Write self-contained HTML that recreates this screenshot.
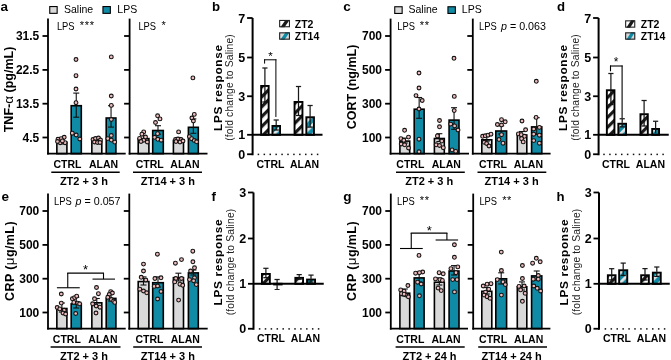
<!DOCTYPE html>
<html><head><meta charset="utf-8"><style>
html,body{margin:0;padding:0;background:#fff;}
svg{display:block;font-family:"Liberation Sans", sans-serif;filter:blur(0.3px);}
</style></head><body>
<svg width="671" height="360" viewBox="0 0 671 360">
<defs>
<pattern id="h2" patternUnits="userSpaceOnUse" width="7" height="7" patternTransform="rotate(45)">
<rect width="7" height="7" fill="#fff"/><rect width="3.2" height="7" fill="#1a1a1a"/></pattern>
<pattern id="h14" patternUnits="userSpaceOnUse" width="7" height="7" patternTransform="rotate(45)">
<rect width="7" height="7" fill="#108ba5"/><rect width="2.8" height="7" fill="#e4e4e4"/></pattern>
<linearGradient id="l2" x1="0" y1="0" x2="1" y2="1">
<stop offset="0" stop-color="#fff"/><stop offset="0.44" stop-color="#fff"/><stop offset="0.44" stop-color="#222"/><stop offset="0.72" stop-color="#222"/><stop offset="0.72" stop-color="#fff"/><stop offset="1" stop-color="#fff"/></linearGradient>
<linearGradient id="l14" x1="0" y1="0" x2="1" y2="1">
<stop offset="0" stop-color="#d9d9d9"/><stop offset="0.44" stop-color="#d9d9d9"/><stop offset="0.44" stop-color="#108ba5"/><stop offset="0.72" stop-color="#108ba5"/><stop offset="0.72" stop-color="#d9d9d9"/><stop offset="1" stop-color="#d9d9d9"/></linearGradient>
</defs>
<rect width="671" height="360" fill="#fff"/>
<text x="0.60" y="11.20" font-size="13.5" font-weight="bold" text-anchor="start" fill="#000" >a</text>
<rect x="49.75" y="6.55" width="7.40" height="6.80" fill="#d9d9d9" stroke="#000" stroke-width="1.1"/>
<text x="64.00" y="12.70" font-size="10.5" font-weight="normal" text-anchor="start" fill="#000" >Saline</text>
<rect x="102.95" y="6.55" width="7.40" height="6.80" fill="#108ba5" stroke="#000" stroke-width="1.1"/>
<text x="117.30" y="12.70" font-size="10.5" font-weight="normal" text-anchor="start" fill="#000" >LPS</text>
<text transform="translate(13.30,89.50) rotate(-90)" x="0" y="0" font-size="12.5" font-weight="bold" text-anchor="middle" fill="#000">TNF-<tspan font-weight="normal" font-size="13.5">α</tspan> (pg/mL)</text>
<rect x="56.85" y="142.20" width="10.05" height="11.45" fill="#d9d9d9" stroke="#000" stroke-width="1.6"/>
<rect x="71.20" y="105.70" width="10.10" height="47.95" fill="#108ba5" stroke="#000" stroke-width="1.6"/>
<rect x="91.85" y="141.70" width="9.95" height="11.95" fill="#d9d9d9" stroke="#000" stroke-width="1.6"/>
<rect x="106.20" y="118.00" width="9.70" height="35.65" fill="#108ba5" stroke="#000" stroke-width="1.6"/>
<line x1="61.90" y1="139.30" x2="61.90" y2="144.00" stroke="#111" stroke-width="1.1" />
<line x1="58.90" y1="139.30" x2="64.90" y2="139.30" stroke="#111" stroke-width="1.1" />
<line x1="58.90" y1="144.00" x2="64.90" y2="144.00" stroke="#111" stroke-width="1.1" />
<line x1="76.25" y1="93.10" x2="76.25" y2="117.20" stroke="#111" stroke-width="1.1" />
<line x1="73.25" y1="93.10" x2="79.25" y2="93.10" stroke="#111" stroke-width="1.1" />
<line x1="73.25" y1="117.20" x2="79.25" y2="117.20" stroke="#111" stroke-width="1.1" />
<line x1="96.80" y1="139.00" x2="96.80" y2="143.50" stroke="#111" stroke-width="1.1" />
<line x1="93.80" y1="139.00" x2="99.80" y2="139.00" stroke="#111" stroke-width="1.1" />
<line x1="93.80" y1="143.50" x2="99.80" y2="143.50" stroke="#111" stroke-width="1.1" />
<line x1="111.05" y1="105.70" x2="111.05" y2="127.10" stroke="#111" stroke-width="1.1" />
<line x1="108.05" y1="105.70" x2="114.05" y2="105.70" stroke="#111" stroke-width="1.1" />
<line x1="108.05" y1="127.10" x2="114.05" y2="127.10" stroke="#111" stroke-width="1.1" />
<circle cx="64.20" cy="137.30" r="1.9" fill="#eebcbc" stroke="#121212" stroke-width="1.1"/>
<circle cx="61.10" cy="138.70" r="1.9" fill="#eebcbc" stroke="#121212" stroke-width="1.1"/>
<circle cx="58.00" cy="139.30" r="1.9" fill="#eebcbc" stroke="#121212" stroke-width="1.1"/>
<circle cx="60.20" cy="142.70" r="1.9" fill="#eebcbc" stroke="#121212" stroke-width="1.1"/>
<circle cx="65.10" cy="142.70" r="1.9" fill="#eebcbc" stroke="#121212" stroke-width="1.1"/>
<circle cx="62.40" cy="140.90" r="1.9" fill="#eebcbc" stroke="#121212" stroke-width="1.1"/>
<circle cx="57.50" cy="141.50" r="1.9" fill="#eebcbc" stroke="#121212" stroke-width="1.1"/>
<circle cx="76.00" cy="59.50" r="1.9" fill="#eebcbc" stroke="#121212" stroke-width="1.1"/>
<circle cx="76.00" cy="75.70" r="1.9" fill="#eebcbc" stroke="#121212" stroke-width="1.1"/>
<circle cx="76.00" cy="89.00" r="1.9" fill="#eebcbc" stroke="#121212" stroke-width="1.1"/>
<circle cx="76.00" cy="102.70" r="1.9" fill="#eebcbc" stroke="#121212" stroke-width="1.1"/>
<circle cx="72.30" cy="133.20" r="1.9" fill="#eebcbc" stroke="#121212" stroke-width="1.1"/>
<circle cx="76.20" cy="135.00" r="1.9" fill="#eebcbc" stroke="#121212" stroke-width="1.1"/>
<circle cx="79.80" cy="139.00" r="1.9" fill="#eebcbc" stroke="#121212" stroke-width="1.1"/>
<circle cx="93.00" cy="139.50" r="1.9" fill="#eebcbc" stroke="#121212" stroke-width="1.1"/>
<circle cx="95.50" cy="138.50" r="1.9" fill="#eebcbc" stroke="#121212" stroke-width="1.1"/>
<circle cx="98.50" cy="138.00" r="1.9" fill="#eebcbc" stroke="#121212" stroke-width="1.1"/>
<circle cx="100.50" cy="140.00" r="1.9" fill="#eebcbc" stroke="#121212" stroke-width="1.1"/>
<circle cx="94.50" cy="142.00" r="1.9" fill="#eebcbc" stroke="#121212" stroke-width="1.1"/>
<circle cx="97.50" cy="142.50" r="1.9" fill="#eebcbc" stroke="#121212" stroke-width="1.1"/>
<circle cx="100.00" cy="142.50" r="1.9" fill="#eebcbc" stroke="#121212" stroke-width="1.1"/>
<circle cx="111.30" cy="56.90" r="1.9" fill="#eebcbc" stroke="#121212" stroke-width="1.1"/>
<circle cx="111.30" cy="96.00" r="1.9" fill="#eebcbc" stroke="#121212" stroke-width="1.1"/>
<circle cx="111.30" cy="105.40" r="1.9" fill="#eebcbc" stroke="#121212" stroke-width="1.1"/>
<circle cx="111.30" cy="119.50" r="1.9" fill="#eebcbc" stroke="#121212" stroke-width="1.1"/>
<circle cx="111.30" cy="135.50" r="1.9" fill="#eebcbc" stroke="#121212" stroke-width="1.1"/>
<circle cx="107.80" cy="138.60" r="1.9" fill="#eebcbc" stroke="#121212" stroke-width="1.1"/>
<circle cx="111.30" cy="140.10" r="1.9" fill="#eebcbc" stroke="#121212" stroke-width="1.1"/>
<circle cx="114.70" cy="142.10" r="1.9" fill="#eebcbc" stroke="#121212" stroke-width="1.1"/>
<line x1="48.00" y1="18.60" x2="48.00" y2="154.60" stroke="#000" stroke-width="1.8" />
<line x1="47.10" y1="153.70" x2="125.70" y2="153.70" stroke="#000" stroke-width="1.8" />
<line x1="42.50" y1="36.00" x2="48.00" y2="36.00" stroke="#000" stroke-width="1.8" />
<text x="39.30" y="40.30" font-size="12" font-weight="bold" text-anchor="end" fill="#000" >31.5</text>
<line x1="42.50" y1="69.90" x2="48.00" y2="69.90" stroke="#000" stroke-width="1.8" />
<text x="39.30" y="74.20" font-size="12" font-weight="bold" text-anchor="end" fill="#000" >22.5</text>
<line x1="42.50" y1="103.70" x2="48.00" y2="103.70" stroke="#000" stroke-width="1.8" />
<text x="39.30" y="108.00" font-size="12" font-weight="bold" text-anchor="end" fill="#000" >13.5</text>
<line x1="42.50" y1="137.50" x2="48.00" y2="137.50" stroke="#000" stroke-width="1.8" />
<text x="39.30" y="141.80" font-size="12" font-weight="bold" text-anchor="end" fill="#000" >4.5</text>
<rect x="138.20" y="138.60" width="10.70" height="15.05" fill="#d9d9d9" stroke="#000" stroke-width="1.6"/>
<rect x="152.70" y="130.50" width="10.60" height="23.15" fill="#108ba5" stroke="#000" stroke-width="1.6"/>
<rect x="173.40" y="140.40" width="10.10" height="13.25" fill="#d9d9d9" stroke="#000" stroke-width="1.6"/>
<rect x="188.40" y="127.30" width="9.90" height="26.35" fill="#108ba5" stroke="#000" stroke-width="1.6"/>
<line x1="143.50" y1="135.50" x2="143.50" y2="140.00" stroke="#111" stroke-width="1.1" />
<line x1="140.50" y1="135.50" x2="146.50" y2="135.50" stroke="#111" stroke-width="1.1" />
<line x1="140.50" y1="140.00" x2="146.50" y2="140.00" stroke="#111" stroke-width="1.1" />
<line x1="158.00" y1="125.70" x2="158.00" y2="134.20" stroke="#111" stroke-width="1.1" />
<line x1="155.00" y1="125.70" x2="161.00" y2="125.70" stroke="#111" stroke-width="1.1" />
<line x1="155.00" y1="134.20" x2="161.00" y2="134.20" stroke="#111" stroke-width="1.1" />
<line x1="178.50" y1="137.50" x2="178.50" y2="141.50" stroke="#111" stroke-width="1.1" />
<line x1="175.50" y1="137.50" x2="181.50" y2="137.50" stroke="#111" stroke-width="1.1" />
<line x1="175.50" y1="141.50" x2="181.50" y2="141.50" stroke="#111" stroke-width="1.1" />
<line x1="193.35" y1="118.90" x2="193.35" y2="133.30" stroke="#111" stroke-width="1.1" />
<line x1="190.35" y1="118.90" x2="196.35" y2="118.90" stroke="#111" stroke-width="1.1" />
<line x1="190.35" y1="133.30" x2="196.35" y2="133.30" stroke="#111" stroke-width="1.1" />
<circle cx="143.70" cy="131.90" r="1.9" fill="#eebcbc" stroke="#121212" stroke-width="1.1"/>
<circle cx="141.90" cy="134.20" r="1.9" fill="#eebcbc" stroke="#121212" stroke-width="1.1"/>
<circle cx="139.60" cy="138.40" r="1.9" fill="#eebcbc" stroke="#121212" stroke-width="1.1"/>
<circle cx="143.70" cy="140.20" r="1.9" fill="#eebcbc" stroke="#121212" stroke-width="1.1"/>
<circle cx="147.30" cy="142.00" r="1.9" fill="#eebcbc" stroke="#121212" stroke-width="1.1"/>
<circle cx="145.50" cy="137.00" r="1.9" fill="#eebcbc" stroke="#121212" stroke-width="1.1"/>
<circle cx="141.00" cy="141.50" r="1.9" fill="#eebcbc" stroke="#121212" stroke-width="1.1"/>
<circle cx="157.60" cy="115.80" r="1.9" fill="#eebcbc" stroke="#121212" stroke-width="1.1"/>
<circle cx="160.00" cy="118.90" r="1.9" fill="#eebcbc" stroke="#121212" stroke-width="1.1"/>
<circle cx="155.50" cy="122.50" r="1.9" fill="#eebcbc" stroke="#121212" stroke-width="1.1"/>
<circle cx="157.60" cy="133.70" r="1.9" fill="#eebcbc" stroke="#121212" stroke-width="1.1"/>
<circle cx="154.60" cy="137.30" r="1.9" fill="#eebcbc" stroke="#121212" stroke-width="1.1"/>
<circle cx="157.80" cy="139.30" r="1.9" fill="#eebcbc" stroke="#121212" stroke-width="1.1"/>
<circle cx="161.20" cy="140.20" r="1.9" fill="#eebcbc" stroke="#121212" stroke-width="1.1"/>
<circle cx="178.60" cy="131.90" r="1.9" fill="#eebcbc" stroke="#121212" stroke-width="1.1"/>
<circle cx="175.50" cy="139.50" r="1.9" fill="#eebcbc" stroke="#121212" stroke-width="1.1"/>
<circle cx="178.00" cy="139.00" r="1.9" fill="#eebcbc" stroke="#121212" stroke-width="1.1"/>
<circle cx="181.00" cy="139.50" r="1.9" fill="#eebcbc" stroke="#121212" stroke-width="1.1"/>
<circle cx="176.00" cy="141.50" r="1.9" fill="#eebcbc" stroke="#121212" stroke-width="1.1"/>
<circle cx="180.00" cy="142.00" r="1.9" fill="#eebcbc" stroke="#121212" stroke-width="1.1"/>
<circle cx="183.00" cy="141.00" r="1.9" fill="#eebcbc" stroke="#121212" stroke-width="1.1"/>
<circle cx="192.90" cy="77.90" r="1.9" fill="#eebcbc" stroke="#121212" stroke-width="1.1"/>
<circle cx="194.30" cy="114.40" r="1.9" fill="#eebcbc" stroke="#121212" stroke-width="1.1"/>
<circle cx="191.90" cy="118.00" r="1.9" fill="#eebcbc" stroke="#121212" stroke-width="1.1"/>
<circle cx="193.40" cy="121.00" r="1.9" fill="#eebcbc" stroke="#121212" stroke-width="1.1"/>
<circle cx="189.40" cy="136.60" r="1.9" fill="#eebcbc" stroke="#121212" stroke-width="1.1"/>
<circle cx="191.60" cy="138.70" r="1.9" fill="#eebcbc" stroke="#121212" stroke-width="1.1"/>
<circle cx="194.30" cy="140.50" r="1.9" fill="#eebcbc" stroke="#121212" stroke-width="1.1"/>
<circle cx="196.60" cy="141.80" r="1.9" fill="#eebcbc" stroke="#121212" stroke-width="1.1"/>
<line x1="129.60" y1="18.60" x2="129.60" y2="154.60" stroke="#000" stroke-width="1.8" />
<line x1="128.70" y1="153.70" x2="207.50" y2="153.70" stroke="#000" stroke-width="1.8" />
<line x1="124.10" y1="36.00" x2="129.60" y2="36.00" stroke="#000" stroke-width="1.8" />
<line x1="124.10" y1="69.90" x2="129.60" y2="69.90" stroke="#000" stroke-width="1.8" />
<line x1="124.10" y1="103.70" x2="129.60" y2="103.70" stroke="#000" stroke-width="1.8" />
<line x1="124.10" y1="137.50" x2="129.60" y2="137.50" stroke="#000" stroke-width="1.8" />
<text x="56.90" y="29.50" font-size="10.5" textLength="17.7" lengthAdjust="spacingAndGlyphs">LPS</text>
<text x="82.00" y="29.10" font-size="11" font-weight="normal" text-anchor="middle" fill="#000" >*</text>
<text x="87.00" y="29.10" font-size="11" font-weight="normal" text-anchor="middle" fill="#000" >*</text>
<text x="92.00" y="29.10" font-size="11" font-weight="normal" text-anchor="middle" fill="#000" >*</text>
<text x="138.40" y="29.70" font-size="10.5" textLength="17.7" lengthAdjust="spacingAndGlyphs">LPS</text>
<text x="163.75" y="29.30" font-size="11" font-weight="normal" text-anchor="middle" fill="#000" >*</text>
<text x="67.40" y="167.80" font-size="10.5" font-weight="bold" text-anchor="middle" fill="#000" >CTRL</text>
<text x="103.60" y="167.80" font-size="10.5" font-weight="bold" text-anchor="middle" fill="#000" >ALAN</text>
<line x1="51.30" y1="172.20" x2="119.70" y2="172.20" stroke="#000" stroke-width="1.6" />
<text x="83.90" y="184.70" font-size="11" font-weight="bold" text-anchor="middle" fill="#000" >ZT2 + 3 h</text>
<text x="149.70" y="167.80" font-size="10.5" font-weight="bold" text-anchor="middle" fill="#000" >CTRL</text>
<text x="184.90" y="167.80" font-size="10.5" font-weight="bold" text-anchor="middle" fill="#000" >ALAN</text>
<line x1="133.00" y1="172.20" x2="202.00" y2="172.20" stroke="#000" stroke-width="1.6" />
<text x="167.90" y="184.70" font-size="11" font-weight="bold" text-anchor="middle" fill="#000" >ZT14 + 3 h</text>
<text x="343.30" y="11.40" font-size="13.5" font-weight="bold" text-anchor="start" fill="#000" >c</text>
<rect x="394.75" y="6.75" width="7.40" height="6.70" fill="#d9d9d9" stroke="#000" stroke-width="1.1"/>
<text x="408.50" y="12.70" font-size="10.5" font-weight="normal" text-anchor="start" fill="#000" >Saline</text>
<rect x="447.95" y="6.75" width="7.40" height="6.70" fill="#108ba5" stroke="#000" stroke-width="1.1"/>
<text x="461.80" y="12.70" font-size="10.5" font-weight="normal" text-anchor="start" fill="#000" >LPS</text>
<text transform="translate(356.30,87.00) rotate(-90)" x="0" y="0" font-size="12.5" font-weight="bold" text-anchor="middle" fill="#000">CORT (ng/mL)</text>
<rect x="399.90" y="141.10" width="9.80" height="12.55" fill="#d9d9d9" stroke="#000" stroke-width="1.6"/>
<rect x="414.20" y="109.20" width="9.90" height="44.45" fill="#108ba5" stroke="#000" stroke-width="1.6"/>
<rect x="434.40" y="138.50" width="9.90" height="15.15" fill="#d9d9d9" stroke="#000" stroke-width="1.6"/>
<rect x="449.10" y="120.10" width="9.90" height="33.55" fill="#108ba5" stroke="#000" stroke-width="1.6"/>
<line x1="404.80" y1="138.10" x2="404.80" y2="143.00" stroke="#111" stroke-width="1.1" />
<line x1="401.80" y1="138.10" x2="407.80" y2="138.10" stroke="#111" stroke-width="1.1" />
<line x1="401.80" y1="143.00" x2="407.80" y2="143.00" stroke="#111" stroke-width="1.1" />
<line x1="419.15" y1="97.50" x2="419.15" y2="118.30" stroke="#111" stroke-width="1.1" />
<line x1="416.15" y1="97.50" x2="422.15" y2="97.50" stroke="#111" stroke-width="1.1" />
<line x1="416.15" y1="118.30" x2="422.15" y2="118.30" stroke="#111" stroke-width="1.1" />
<line x1="439.35" y1="133.70" x2="439.35" y2="141.50" stroke="#111" stroke-width="1.1" />
<line x1="436.35" y1="133.70" x2="442.35" y2="133.70" stroke="#111" stroke-width="1.1" />
<line x1="436.35" y1="141.50" x2="442.35" y2="141.50" stroke="#111" stroke-width="1.1" />
<line x1="454.05" y1="107.70" x2="454.05" y2="129.30" stroke="#111" stroke-width="1.1" />
<line x1="451.05" y1="107.70" x2="457.05" y2="107.70" stroke="#111" stroke-width="1.1" />
<line x1="451.05" y1="129.30" x2="457.05" y2="129.30" stroke="#111" stroke-width="1.1" />
<circle cx="404.60" cy="130.30" r="1.9" fill="#eebcbc" stroke="#121212" stroke-width="1.1"/>
<circle cx="400.90" cy="138.60" r="1.9" fill="#eebcbc" stroke="#121212" stroke-width="1.1"/>
<circle cx="408.50" cy="137.10" r="1.9" fill="#eebcbc" stroke="#121212" stroke-width="1.1"/>
<circle cx="403.80" cy="140.30" r="1.9" fill="#eebcbc" stroke="#121212" stroke-width="1.1"/>
<circle cx="401.20" cy="144.00" r="1.9" fill="#eebcbc" stroke="#121212" stroke-width="1.1"/>
<circle cx="404.60" cy="144.80" r="1.9" fill="#eebcbc" stroke="#121212" stroke-width="1.1"/>
<circle cx="408.50" cy="148.00" r="1.9" fill="#eebcbc" stroke="#121212" stroke-width="1.1"/>
<circle cx="419.00" cy="73.00" r="1.9" fill="#eebcbc" stroke="#121212" stroke-width="1.1"/>
<circle cx="419.00" cy="88.00" r="1.9" fill="#eebcbc" stroke="#121212" stroke-width="1.1"/>
<circle cx="416.00" cy="95.60" r="1.9" fill="#eebcbc" stroke="#121212" stroke-width="1.1"/>
<circle cx="422.20" cy="100.50" r="1.9" fill="#eebcbc" stroke="#121212" stroke-width="1.1"/>
<circle cx="419.00" cy="109.00" r="1.9" fill="#eebcbc" stroke="#121212" stroke-width="1.1"/>
<circle cx="419.00" cy="139.20" r="1.9" fill="#eebcbc" stroke="#121212" stroke-width="1.1"/>
<circle cx="419.00" cy="151.80" r="1.9" fill="#eebcbc" stroke="#121212" stroke-width="1.1"/>
<circle cx="439.50" cy="120.50" r="1.9" fill="#eebcbc" stroke="#121212" stroke-width="1.1"/>
<circle cx="439.50" cy="126.80" r="1.9" fill="#eebcbc" stroke="#121212" stroke-width="1.1"/>
<circle cx="437.40" cy="135.90" r="1.9" fill="#eebcbc" stroke="#121212" stroke-width="1.1"/>
<circle cx="441.80" cy="141.10" r="1.9" fill="#eebcbc" stroke="#121212" stroke-width="1.1"/>
<circle cx="436.20" cy="144.80" r="1.9" fill="#eebcbc" stroke="#121212" stroke-width="1.1"/>
<circle cx="439.50" cy="145.50" r="1.9" fill="#eebcbc" stroke="#121212" stroke-width="1.1"/>
<circle cx="443.30" cy="147.70" r="1.9" fill="#eebcbc" stroke="#121212" stroke-width="1.1"/>
<circle cx="454.00" cy="58.30" r="1.9" fill="#eebcbc" stroke="#121212" stroke-width="1.1"/>
<circle cx="454.30" cy="96.40" r="1.9" fill="#eebcbc" stroke="#121212" stroke-width="1.1"/>
<circle cx="454.20" cy="110.60" r="1.9" fill="#eebcbc" stroke="#121212" stroke-width="1.1"/>
<circle cx="450.70" cy="124.10" r="1.9" fill="#eebcbc" stroke="#121212" stroke-width="1.1"/>
<circle cx="454.60" cy="125.90" r="1.9" fill="#eebcbc" stroke="#121212" stroke-width="1.1"/>
<circle cx="458.00" cy="130.00" r="1.9" fill="#eebcbc" stroke="#121212" stroke-width="1.1"/>
<circle cx="452.10" cy="149.90" r="1.9" fill="#eebcbc" stroke="#121212" stroke-width="1.1"/>
<circle cx="455.70" cy="151.40" r="1.9" fill="#eebcbc" stroke="#121212" stroke-width="1.1"/>
<line x1="390.60" y1="18.60" x2="390.60" y2="154.60" stroke="#000" stroke-width="1.8" />
<line x1="389.70" y1="153.70" x2="469.00" y2="153.70" stroke="#000" stroke-width="1.8" />
<line x1="385.10" y1="36.00" x2="390.60" y2="36.00" stroke="#000" stroke-width="1.8" />
<text x="382.00" y="40.30" font-size="12" font-weight="bold" text-anchor="end" fill="#000" >700</text>
<line x1="385.10" y1="69.90" x2="390.60" y2="69.90" stroke="#000" stroke-width="1.8" />
<text x="382.00" y="74.20" font-size="12" font-weight="bold" text-anchor="end" fill="#000" >500</text>
<line x1="385.10" y1="103.70" x2="390.60" y2="103.70" stroke="#000" stroke-width="1.8" />
<text x="382.00" y="108.00" font-size="12" font-weight="bold" text-anchor="end" fill="#000" >300</text>
<line x1="385.10" y1="137.50" x2="390.60" y2="137.50" stroke="#000" stroke-width="1.8" />
<text x="382.00" y="141.80" font-size="12" font-weight="bold" text-anchor="end" fill="#000" >100</text>
<rect x="481.80" y="139.80" width="10.00" height="13.85" fill="#d9d9d9" stroke="#000" stroke-width="1.6"/>
<rect x="495.80" y="131.00" width="10.80" height="22.65" fill="#108ba5" stroke="#000" stroke-width="1.6"/>
<rect x="517.30" y="135.00" width="9.50" height="18.65" fill="#d9d9d9" stroke="#000" stroke-width="1.6"/>
<rect x="531.60" y="126.90" width="10.20" height="26.75" fill="#108ba5" stroke="#000" stroke-width="1.6"/>
<line x1="486.80" y1="136.50" x2="486.80" y2="141.00" stroke="#111" stroke-width="1.1" />
<line x1="483.80" y1="136.50" x2="489.80" y2="136.50" stroke="#111" stroke-width="1.1" />
<line x1="483.80" y1="141.00" x2="489.80" y2="141.00" stroke="#111" stroke-width="1.1" />
<line x1="501.20" y1="125.80" x2="501.20" y2="134.00" stroke="#111" stroke-width="1.1" />
<line x1="498.20" y1="125.80" x2="504.20" y2="125.80" stroke="#111" stroke-width="1.1" />
<line x1="498.20" y1="134.00" x2="504.20" y2="134.00" stroke="#111" stroke-width="1.1" />
<line x1="522.00" y1="131.50" x2="522.00" y2="137.00" stroke="#111" stroke-width="1.1" />
<line x1="519.00" y1="131.50" x2="525.00" y2="131.50" stroke="#111" stroke-width="1.1" />
<line x1="519.00" y1="137.00" x2="525.00" y2="137.00" stroke="#111" stroke-width="1.1" />
<line x1="536.70" y1="117.70" x2="536.70" y2="134.50" stroke="#111" stroke-width="1.1" />
<line x1="533.70" y1="117.70" x2="539.70" y2="117.70" stroke="#111" stroke-width="1.1" />
<line x1="533.70" y1="134.50" x2="539.70" y2="134.50" stroke="#111" stroke-width="1.1" />
<circle cx="482.60" cy="136.30" r="1.9" fill="#eebcbc" stroke="#121212" stroke-width="1.1"/>
<circle cx="485.30" cy="135.80" r="1.9" fill="#eebcbc" stroke="#121212" stroke-width="1.1"/>
<circle cx="488.00" cy="135.20" r="1.9" fill="#eebcbc" stroke="#121212" stroke-width="1.1"/>
<circle cx="491.00" cy="134.20" r="1.9" fill="#eebcbc" stroke="#121212" stroke-width="1.1"/>
<circle cx="484.20" cy="142.30" r="1.9" fill="#eebcbc" stroke="#121212" stroke-width="1.1"/>
<circle cx="486.60" cy="143.50" r="1.9" fill="#eebcbc" stroke="#121212" stroke-width="1.1"/>
<circle cx="489.00" cy="146.00" r="1.9" fill="#eebcbc" stroke="#121212" stroke-width="1.1"/>
<circle cx="501.50" cy="119.70" r="1.9" fill="#eebcbc" stroke="#121212" stroke-width="1.1"/>
<circle cx="505.20" cy="121.80" r="1.9" fill="#eebcbc" stroke="#121212" stroke-width="1.1"/>
<circle cx="497.40" cy="124.50" r="1.9" fill="#eebcbc" stroke="#121212" stroke-width="1.1"/>
<circle cx="501.50" cy="125.00" r="1.9" fill="#eebcbc" stroke="#121212" stroke-width="1.1"/>
<circle cx="501.50" cy="134.70" r="1.9" fill="#eebcbc" stroke="#121212" stroke-width="1.1"/>
<circle cx="499.00" cy="139.50" r="1.9" fill="#eebcbc" stroke="#121212" stroke-width="1.1"/>
<circle cx="503.00" cy="143.20" r="1.9" fill="#eebcbc" stroke="#121212" stroke-width="1.1"/>
<circle cx="522.00" cy="121.00" r="1.9" fill="#eebcbc" stroke="#121212" stroke-width="1.1"/>
<circle cx="525.60" cy="129.80" r="1.9" fill="#eebcbc" stroke="#121212" stroke-width="1.1"/>
<circle cx="518.40" cy="133.90" r="1.9" fill="#eebcbc" stroke="#121212" stroke-width="1.1"/>
<circle cx="521.30" cy="134.70" r="1.9" fill="#eebcbc" stroke="#121212" stroke-width="1.1"/>
<circle cx="524.50" cy="136.30" r="1.9" fill="#eebcbc" stroke="#121212" stroke-width="1.1"/>
<circle cx="521.60" cy="138.70" r="1.9" fill="#eebcbc" stroke="#121212" stroke-width="1.1"/>
<circle cx="523.20" cy="141.90" r="1.9" fill="#eebcbc" stroke="#121212" stroke-width="1.1"/>
<circle cx="536.30" cy="81.30" r="1.9" fill="#eebcbc" stroke="#121212" stroke-width="1.1"/>
<circle cx="536.10" cy="117.40" r="1.9" fill="#eebcbc" stroke="#121212" stroke-width="1.1"/>
<circle cx="533.70" cy="129.00" r="1.9" fill="#eebcbc" stroke="#121212" stroke-width="1.1"/>
<circle cx="539.40" cy="127.40" r="1.9" fill="#eebcbc" stroke="#121212" stroke-width="1.1"/>
<circle cx="533.70" cy="134.20" r="1.9" fill="#eebcbc" stroke="#121212" stroke-width="1.1"/>
<circle cx="539.40" cy="135.20" r="1.9" fill="#eebcbc" stroke="#121212" stroke-width="1.1"/>
<circle cx="533.70" cy="140.60" r="1.9" fill="#eebcbc" stroke="#121212" stroke-width="1.1"/>
<circle cx="539.40" cy="143.20" r="1.9" fill="#eebcbc" stroke="#121212" stroke-width="1.1"/>
<line x1="472.80" y1="18.60" x2="472.80" y2="154.60" stroke="#000" stroke-width="1.8" />
<line x1="471.90" y1="153.70" x2="550.60" y2="153.70" stroke="#000" stroke-width="1.8" />
<line x1="467.30" y1="36.00" x2="472.80" y2="36.00" stroke="#000" stroke-width="1.8" />
<line x1="467.30" y1="69.90" x2="472.80" y2="69.90" stroke="#000" stroke-width="1.8" />
<line x1="467.30" y1="103.70" x2="472.80" y2="103.70" stroke="#000" stroke-width="1.8" />
<line x1="467.30" y1="137.50" x2="472.80" y2="137.50" stroke="#000" stroke-width="1.8" />
<text x="397.30" y="29.60" font-size="10.5" textLength="17.7" lengthAdjust="spacingAndGlyphs">LPS</text>
<text x="421.80" y="29.20" font-size="11" font-weight="normal" text-anchor="middle" fill="#000" >*</text>
<text x="427.00" y="29.20" font-size="11" font-weight="normal" text-anchor="middle" fill="#000" >*</text>
<text x="479.10" y="30.20" font-size="10.5" textLength="17.7" lengthAdjust="spacingAndGlyphs">LPS</text>
<text x="501.00" y="30.20" font-size="10.7" font-weight="normal" text-anchor="start" fill="#000" ><tspan font-style="italic">p</tspan> = 0.063</text>
<text x="410.30" y="167.80" font-size="10.5" font-weight="bold" text-anchor="middle" fill="#000" >CTRL</text>
<text x="446.30" y="167.80" font-size="10.5" font-weight="bold" text-anchor="middle" fill="#000" >ALAN</text>
<line x1="396.00" y1="172.20" x2="464.80" y2="172.20" stroke="#000" stroke-width="1.6" />
<text x="429.20" y="184.70" font-size="11" font-weight="bold" text-anchor="middle" fill="#000" >ZT2 + 3 h</text>
<text x="493.00" y="167.80" font-size="10.5" font-weight="bold" text-anchor="middle" fill="#000" >CTRL</text>
<text x="528.40" y="167.80" font-size="10.5" font-weight="bold" text-anchor="middle" fill="#000" >ALAN</text>
<line x1="477.50" y1="172.20" x2="546.30" y2="172.20" stroke="#000" stroke-width="1.6" />
<text x="511.60" y="184.70" font-size="11" font-weight="bold" text-anchor="middle" fill="#000" >ZT14 + 3 h</text>
<text x="1.50" y="200.60" font-size="13.5" font-weight="bold" text-anchor="start" fill="#000" >e</text>
<text transform="translate(13.50,261.20) rotate(-90)" x="0" y="0" font-size="12.5" font-weight="bold" text-anchor="middle" fill="#000" textLength="79.5" lengthAdjust="spacing">CRP (<tspan font-weight="normal" font-size="13.5">μ</tspan>g/mL)</text>
<rect x="56.85" y="308.50" width="10.05" height="20.15" fill="#d9d9d9" stroke="#000" stroke-width="1.6"/>
<rect x="71.20" y="303.90" width="10.10" height="24.75" fill="#108ba5" stroke="#000" stroke-width="1.6"/>
<rect x="91.85" y="302.80" width="9.95" height="25.85" fill="#d9d9d9" stroke="#000" stroke-width="1.6"/>
<rect x="106.20" y="298.40" width="9.70" height="30.25" fill="#108ba5" stroke="#000" stroke-width="1.6"/>
<line x1="61.90" y1="303.00" x2="61.90" y2="312.00" stroke="#111" stroke-width="1.1" />
<line x1="58.90" y1="303.00" x2="64.90" y2="303.00" stroke="#111" stroke-width="1.1" />
<line x1="58.90" y1="312.00" x2="64.90" y2="312.00" stroke="#111" stroke-width="1.1" />
<line x1="76.25" y1="297.30" x2="76.25" y2="308.00" stroke="#111" stroke-width="1.1" />
<line x1="73.25" y1="297.30" x2="79.25" y2="297.30" stroke="#111" stroke-width="1.1" />
<line x1="73.25" y1="308.00" x2="79.25" y2="308.00" stroke="#111" stroke-width="1.1" />
<line x1="96.80" y1="298.50" x2="96.80" y2="306.00" stroke="#111" stroke-width="1.1" />
<line x1="93.80" y1="298.50" x2="99.80" y2="298.50" stroke="#111" stroke-width="1.1" />
<line x1="93.80" y1="306.00" x2="99.80" y2="306.00" stroke="#111" stroke-width="1.1" />
<line x1="111.05" y1="293.70" x2="111.05" y2="301.00" stroke="#111" stroke-width="1.1" />
<line x1="108.05" y1="293.70" x2="114.05" y2="293.70" stroke="#111" stroke-width="1.1" />
<line x1="108.05" y1="301.00" x2="114.05" y2="301.00" stroke="#111" stroke-width="1.1" />
<circle cx="61.30" cy="294.00" r="1.9" fill="#eebcbc" stroke="#121212" stroke-width="1.1"/>
<circle cx="61.30" cy="303.10" r="1.9" fill="#eebcbc" stroke="#121212" stroke-width="1.1"/>
<circle cx="57.20" cy="307.50" r="1.9" fill="#eebcbc" stroke="#121212" stroke-width="1.1"/>
<circle cx="59.80" cy="308.90" r="1.9" fill="#eebcbc" stroke="#121212" stroke-width="1.1"/>
<circle cx="64.20" cy="310.30" r="1.9" fill="#eebcbc" stroke="#121212" stroke-width="1.1"/>
<circle cx="63.00" cy="313.00" r="1.9" fill="#eebcbc" stroke="#121212" stroke-width="1.1"/>
<circle cx="65.60" cy="314.00" r="1.9" fill="#eebcbc" stroke="#121212" stroke-width="1.1"/>
<circle cx="72.40" cy="298.80" r="1.9" fill="#eebcbc" stroke="#121212" stroke-width="1.1"/>
<circle cx="74.60" cy="297.60" r="1.9" fill="#eebcbc" stroke="#121212" stroke-width="1.1"/>
<circle cx="76.70" cy="296.20" r="1.9" fill="#eebcbc" stroke="#121212" stroke-width="1.1"/>
<circle cx="73.80" cy="302.40" r="1.9" fill="#eebcbc" stroke="#121212" stroke-width="1.1"/>
<circle cx="77.70" cy="303.10" r="1.9" fill="#eebcbc" stroke="#121212" stroke-width="1.1"/>
<circle cx="79.60" cy="303.80" r="1.9" fill="#eebcbc" stroke="#121212" stroke-width="1.1"/>
<circle cx="75.70" cy="313.50" r="1.9" fill="#eebcbc" stroke="#121212" stroke-width="1.1"/>
<circle cx="96.50" cy="287.50" r="1.9" fill="#eebcbc" stroke="#121212" stroke-width="1.1"/>
<circle cx="98.40" cy="293.70" r="1.9" fill="#eebcbc" stroke="#121212" stroke-width="1.1"/>
<circle cx="94.50" cy="298.80" r="1.9" fill="#eebcbc" stroke="#121212" stroke-width="1.1"/>
<circle cx="92.60" cy="303.80" r="1.9" fill="#eebcbc" stroke="#121212" stroke-width="1.1"/>
<circle cx="96.20" cy="306.00" r="1.9" fill="#eebcbc" stroke="#121212" stroke-width="1.1"/>
<circle cx="99.90" cy="307.20" r="1.9" fill="#eebcbc" stroke="#121212" stroke-width="1.1"/>
<circle cx="96.00" cy="313.00" r="1.9" fill="#eebcbc" stroke="#121212" stroke-width="1.1"/>
<circle cx="110.70" cy="291.60" r="1.9" fill="#eebcbc" stroke="#121212" stroke-width="1.1"/>
<circle cx="112.40" cy="293.00" r="1.9" fill="#eebcbc" stroke="#121212" stroke-width="1.1"/>
<circle cx="109.20" cy="294.50" r="1.9" fill="#eebcbc" stroke="#121212" stroke-width="1.1"/>
<circle cx="107.80" cy="297.30" r="1.9" fill="#eebcbc" stroke="#121212" stroke-width="1.1"/>
<circle cx="111.40" cy="299.50" r="1.9" fill="#eebcbc" stroke="#121212" stroke-width="1.1"/>
<circle cx="113.60" cy="301.00" r="1.9" fill="#eebcbc" stroke="#121212" stroke-width="1.1"/>
<circle cx="114.70" cy="302.40" r="1.9" fill="#eebcbc" stroke="#121212" stroke-width="1.1"/>
<line x1="48.00" y1="193.60" x2="48.00" y2="329.60" stroke="#000" stroke-width="1.8" />
<line x1="47.10" y1="328.70" x2="125.70" y2="328.70" stroke="#000" stroke-width="1.8" />
<line x1="42.50" y1="211.00" x2="48.00" y2="211.00" stroke="#000" stroke-width="1.8" />
<text x="39.30" y="215.30" font-size="12" font-weight="bold" text-anchor="end" fill="#000" >700</text>
<line x1="42.50" y1="244.90" x2="48.00" y2="244.90" stroke="#000" stroke-width="1.8" />
<text x="39.30" y="249.20" font-size="12" font-weight="bold" text-anchor="end" fill="#000" >500</text>
<line x1="42.50" y1="278.70" x2="48.00" y2="278.70" stroke="#000" stroke-width="1.8" />
<text x="39.30" y="283.00" font-size="12" font-weight="bold" text-anchor="end" fill="#000" >300</text>
<line x1="42.50" y1="312.50" x2="48.00" y2="312.50" stroke="#000" stroke-width="1.8" />
<text x="39.30" y="316.80" font-size="12" font-weight="bold" text-anchor="end" fill="#000" >100</text>
<rect x="138.20" y="281.55" width="10.70" height="47.10" fill="#d9d9d9" stroke="#000" stroke-width="1.6"/>
<rect x="152.70" y="282.70" width="10.60" height="45.95" fill="#108ba5" stroke="#000" stroke-width="1.6"/>
<rect x="173.40" y="277.70" width="10.10" height="50.95" fill="#d9d9d9" stroke="#000" stroke-width="1.6"/>
<rect x="188.40" y="272.90" width="9.90" height="55.75" fill="#108ba5" stroke="#000" stroke-width="1.6"/>
<line x1="143.50" y1="276.90" x2="143.50" y2="285.00" stroke="#111" stroke-width="1.1" />
<line x1="140.50" y1="276.90" x2="146.50" y2="276.90" stroke="#111" stroke-width="1.1" />
<line x1="140.50" y1="285.00" x2="146.50" y2="285.00" stroke="#111" stroke-width="1.1" />
<line x1="158.00" y1="276.90" x2="158.00" y2="287.00" stroke="#111" stroke-width="1.1" />
<line x1="155.00" y1="276.90" x2="161.00" y2="276.90" stroke="#111" stroke-width="1.1" />
<line x1="155.00" y1="287.00" x2="161.00" y2="287.00" stroke="#111" stroke-width="1.1" />
<line x1="178.40" y1="273.20" x2="178.40" y2="281.00" stroke="#111" stroke-width="1.1" />
<line x1="175.40" y1="273.20" x2="181.40" y2="273.20" stroke="#111" stroke-width="1.1" />
<line x1="175.40" y1="281.00" x2="181.40" y2="281.00" stroke="#111" stroke-width="1.1" />
<line x1="193.40" y1="270.00" x2="193.40" y2="275.00" stroke="#111" stroke-width="1.1" />
<line x1="190.40" y1="270.00" x2="196.40" y2="270.00" stroke="#111" stroke-width="1.1" />
<line x1="190.40" y1="275.00" x2="196.40" y2="275.00" stroke="#111" stroke-width="1.1" />
<circle cx="143.50" cy="264.10" r="1.9" fill="#eebcbc" stroke="#121212" stroke-width="1.1"/>
<circle cx="143.50" cy="271.00" r="1.9" fill="#eebcbc" stroke="#121212" stroke-width="1.1"/>
<circle cx="141.20" cy="277.30" r="1.9" fill="#eebcbc" stroke="#121212" stroke-width="1.1"/>
<circle cx="145.80" cy="280.00" r="1.9" fill="#eebcbc" stroke="#121212" stroke-width="1.1"/>
<circle cx="139.80" cy="289.20" r="1.9" fill="#eebcbc" stroke="#121212" stroke-width="1.1"/>
<circle cx="143.50" cy="291.00" r="1.9" fill="#eebcbc" stroke="#121212" stroke-width="1.1"/>
<circle cx="146.70" cy="292.80" r="1.9" fill="#eebcbc" stroke="#121212" stroke-width="1.1"/>
<circle cx="157.40" cy="254.20" r="1.9" fill="#eebcbc" stroke="#121212" stroke-width="1.1"/>
<circle cx="154.90" cy="278.50" r="1.9" fill="#eebcbc" stroke="#121212" stroke-width="1.1"/>
<circle cx="161.00" cy="277.80" r="1.9" fill="#eebcbc" stroke="#121212" stroke-width="1.1"/>
<circle cx="154.20" cy="286.40" r="1.9" fill="#eebcbc" stroke="#121212" stroke-width="1.1"/>
<circle cx="157.60" cy="286.00" r="1.9" fill="#eebcbc" stroke="#121212" stroke-width="1.1"/>
<circle cx="161.00" cy="291.50" r="1.9" fill="#eebcbc" stroke="#121212" stroke-width="1.1"/>
<circle cx="157.60" cy="299.00" r="1.9" fill="#eebcbc" stroke="#121212" stroke-width="1.1"/>
<circle cx="175.40" cy="263.20" r="1.9" fill="#eebcbc" stroke="#121212" stroke-width="1.1"/>
<circle cx="181.50" cy="259.60" r="1.9" fill="#eebcbc" stroke="#121212" stroke-width="1.1"/>
<circle cx="175.80" cy="278.50" r="1.9" fill="#eebcbc" stroke="#121212" stroke-width="1.1"/>
<circle cx="181.50" cy="278.50" r="1.9" fill="#eebcbc" stroke="#121212" stroke-width="1.1"/>
<circle cx="174.70" cy="281.90" r="1.9" fill="#eebcbc" stroke="#121212" stroke-width="1.1"/>
<circle cx="179.90" cy="284.20" r="1.9" fill="#eebcbc" stroke="#121212" stroke-width="1.1"/>
<circle cx="182.70" cy="285.30" r="1.9" fill="#eebcbc" stroke="#121212" stroke-width="1.1"/>
<circle cx="178.60" cy="300.10" r="1.9" fill="#eebcbc" stroke="#121212" stroke-width="1.1"/>
<circle cx="192.80" cy="251.20" r="1.9" fill="#eebcbc" stroke="#121212" stroke-width="1.1"/>
<circle cx="192.90" cy="261.80" r="1.9" fill="#eebcbc" stroke="#121212" stroke-width="1.1"/>
<circle cx="194.50" cy="267.80" r="1.9" fill="#eebcbc" stroke="#121212" stroke-width="1.1"/>
<circle cx="190.60" cy="271.00" r="1.9" fill="#eebcbc" stroke="#121212" stroke-width="1.1"/>
<circle cx="194.50" cy="277.80" r="1.9" fill="#eebcbc" stroke="#121212" stroke-width="1.1"/>
<circle cx="189.50" cy="279.60" r="1.9" fill="#eebcbc" stroke="#121212" stroke-width="1.1"/>
<circle cx="193.60" cy="280.75" r="1.9" fill="#eebcbc" stroke="#121212" stroke-width="1.1"/>
<circle cx="196.30" cy="284.60" r="1.9" fill="#eebcbc" stroke="#121212" stroke-width="1.1"/>
<line x1="129.30" y1="193.60" x2="129.30" y2="329.60" stroke="#000" stroke-width="1.8" />
<line x1="128.40" y1="328.70" x2="207.70" y2="328.70" stroke="#000" stroke-width="1.8" />
<line x1="123.80" y1="211.00" x2="129.30" y2="211.00" stroke="#000" stroke-width="1.8" />
<line x1="123.80" y1="244.90" x2="129.30" y2="244.90" stroke="#000" stroke-width="1.8" />
<line x1="123.80" y1="278.70" x2="129.30" y2="278.70" stroke="#000" stroke-width="1.8" />
<line x1="123.80" y1="312.50" x2="129.30" y2="312.50" stroke="#000" stroke-width="1.8" />
<text x="54.00" y="204.90" font-size="10.5" textLength="17.7" lengthAdjust="spacingAndGlyphs">LPS</text>
<text x="75.60" y="204.90" font-size="10.7" font-weight="normal" text-anchor="start" fill="#000" ><tspan font-style="italic">p</tspan> = 0.057</text>
<line x1="56.90" y1="287.75" x2="79.75" y2="287.75" stroke="#000" stroke-width="1.1" />
<line x1="67.75" y1="287.75" x2="67.75" y2="273.10" stroke="#000" stroke-width="1.1" />
<line x1="67.20" y1="273.10" x2="104.00" y2="273.10" stroke="#000" stroke-width="1.1" />
<line x1="103.50" y1="273.10" x2="103.50" y2="279.10" stroke="#000" stroke-width="1.1" />
<line x1="92.50" y1="279.10" x2="115.00" y2="279.10" stroke="#000" stroke-width="1.1" />
<text x="85.60" y="273.50" font-size="13" font-weight="normal" text-anchor="middle" fill="#000" >*</text>
<text x="66.85" y="342.60" font-size="10.5" font-weight="bold" text-anchor="middle" fill="#000" >CTRL</text>
<text x="102.90" y="342.60" font-size="10.5" font-weight="bold" text-anchor="middle" fill="#000" >ALAN</text>
<line x1="50.60" y1="347.00" x2="120.50" y2="347.00" stroke="#000" stroke-width="1.6" />
<text x="84.00" y="359.50" font-size="11" font-weight="bold" text-anchor="middle" fill="#000" >ZT2 + 3 h</text>
<text x="149.50" y="342.60" font-size="10.5" font-weight="bold" text-anchor="middle" fill="#000" >CTRL</text>
<text x="185.30" y="342.60" font-size="10.5" font-weight="bold" text-anchor="middle" fill="#000" >ALAN</text>
<line x1="133.20" y1="347.00" x2="202.00" y2="347.00" stroke="#000" stroke-width="1.6" />
<text x="167.85" y="359.50" font-size="11" font-weight="bold" text-anchor="middle" fill="#000" >ZT14 + 3 h</text>
<text x="343.30" y="201.00" font-size="13.5" font-weight="bold" text-anchor="start" fill="#000" >g</text>
<text transform="translate(356.30,261.20) rotate(-90)" x="0" y="0" font-size="12.5" font-weight="bold" text-anchor="middle" fill="#000" textLength="79.5" lengthAdjust="spacing">CRP (<tspan font-weight="normal" font-size="13.5">μ</tspan>g/mL)</text>
<rect x="399.90" y="293.20" width="9.80" height="35.45" fill="#d9d9d9" stroke="#000" stroke-width="1.6"/>
<rect x="414.20" y="277.90" width="9.90" height="50.75" fill="#108ba5" stroke="#000" stroke-width="1.6"/>
<rect x="434.40" y="282.20" width="9.90" height="46.45" fill="#d9d9d9" stroke="#000" stroke-width="1.6"/>
<rect x="449.10" y="271.00" width="9.90" height="57.65" fill="#108ba5" stroke="#000" stroke-width="1.6"/>
<line x1="404.80" y1="289.00" x2="404.80" y2="296.00" stroke="#111" stroke-width="1.1" />
<line x1="401.80" y1="289.00" x2="407.80" y2="289.00" stroke="#111" stroke-width="1.1" />
<line x1="401.80" y1="296.00" x2="407.80" y2="296.00" stroke="#111" stroke-width="1.1" />
<line x1="419.15" y1="272.00" x2="419.15" y2="282.00" stroke="#111" stroke-width="1.1" />
<line x1="416.15" y1="272.00" x2="422.15" y2="272.00" stroke="#111" stroke-width="1.1" />
<line x1="416.15" y1="282.00" x2="422.15" y2="282.00" stroke="#111" stroke-width="1.1" />
<line x1="439.35" y1="277.90" x2="439.35" y2="285.00" stroke="#111" stroke-width="1.1" />
<line x1="436.35" y1="277.90" x2="442.35" y2="277.90" stroke="#111" stroke-width="1.1" />
<line x1="436.35" y1="285.00" x2="442.35" y2="285.00" stroke="#111" stroke-width="1.1" />
<line x1="454.05" y1="265.60" x2="454.05" y2="275.00" stroke="#111" stroke-width="1.1" />
<line x1="451.05" y1="265.60" x2="457.05" y2="265.60" stroke="#111" stroke-width="1.1" />
<line x1="451.05" y1="275.00" x2="457.05" y2="275.00" stroke="#111" stroke-width="1.1" />
<circle cx="407.90" cy="285.50" r="1.9" fill="#eebcbc" stroke="#121212" stroke-width="1.1"/>
<circle cx="400.70" cy="289.90" r="1.9" fill="#eebcbc" stroke="#121212" stroke-width="1.1"/>
<circle cx="404.10" cy="291.20" r="1.9" fill="#eebcbc" stroke="#121212" stroke-width="1.1"/>
<circle cx="401.50" cy="293.70" r="1.9" fill="#eebcbc" stroke="#121212" stroke-width="1.1"/>
<circle cx="405.90" cy="295.00" r="1.9" fill="#eebcbc" stroke="#121212" stroke-width="1.1"/>
<circle cx="408.40" cy="296.80" r="1.9" fill="#eebcbc" stroke="#121212" stroke-width="1.1"/>
<circle cx="404.10" cy="294.20" r="1.9" fill="#eebcbc" stroke="#121212" stroke-width="1.1"/>
<circle cx="419.00" cy="255.40" r="1.9" fill="#eebcbc" stroke="#121212" stroke-width="1.1"/>
<circle cx="415.60" cy="273.20" r="1.9" fill="#eebcbc" stroke="#121212" stroke-width="1.1"/>
<circle cx="422.70" cy="272.00" r="1.9" fill="#eebcbc" stroke="#121212" stroke-width="1.1"/>
<circle cx="419.40" cy="272.70" r="1.9" fill="#eebcbc" stroke="#121212" stroke-width="1.1"/>
<circle cx="417.60" cy="282.20" r="1.9" fill="#eebcbc" stroke="#121212" stroke-width="1.1"/>
<circle cx="421.20" cy="284.00" r="1.9" fill="#eebcbc" stroke="#121212" stroke-width="1.1"/>
<circle cx="419.40" cy="295.80" r="1.9" fill="#eebcbc" stroke="#121212" stroke-width="1.1"/>
<circle cx="439.10" cy="272.70" r="1.9" fill="#eebcbc" stroke="#121212" stroke-width="1.1"/>
<circle cx="443.20" cy="273.80" r="1.9" fill="#eebcbc" stroke="#121212" stroke-width="1.1"/>
<circle cx="435.50" cy="278.90" r="1.9" fill="#eebcbc" stroke="#121212" stroke-width="1.1"/>
<circle cx="439.90" cy="279.60" r="1.9" fill="#eebcbc" stroke="#121212" stroke-width="1.1"/>
<circle cx="442.40" cy="280.40" r="1.9" fill="#eebcbc" stroke="#121212" stroke-width="1.1"/>
<circle cx="438.10" cy="288.10" r="1.9" fill="#eebcbc" stroke="#121212" stroke-width="1.1"/>
<circle cx="441.20" cy="290.60" r="1.9" fill="#eebcbc" stroke="#121212" stroke-width="1.1"/>
<circle cx="454.40" cy="244.75" r="1.9" fill="#eebcbc" stroke="#121212" stroke-width="1.1"/>
<circle cx="454.40" cy="257.30" r="1.9" fill="#eebcbc" stroke="#121212" stroke-width="1.1"/>
<circle cx="457.80" cy="266.90" r="1.9" fill="#eebcbc" stroke="#121212" stroke-width="1.1"/>
<circle cx="450.90" cy="268.60" r="1.9" fill="#eebcbc" stroke="#121212" stroke-width="1.1"/>
<circle cx="456.00" cy="272.70" r="1.9" fill="#eebcbc" stroke="#121212" stroke-width="1.1"/>
<circle cx="452.70" cy="279.60" r="1.9" fill="#eebcbc" stroke="#121212" stroke-width="1.1"/>
<circle cx="457.00" cy="279.60" r="1.9" fill="#eebcbc" stroke="#121212" stroke-width="1.1"/>
<circle cx="454.50" cy="291.90" r="1.9" fill="#eebcbc" stroke="#121212" stroke-width="1.1"/>
<line x1="390.80" y1="193.60" x2="390.80" y2="329.60" stroke="#000" stroke-width="1.8" />
<line x1="389.90" y1="328.70" x2="468.00" y2="328.70" stroke="#000" stroke-width="1.8" />
<line x1="385.30" y1="211.00" x2="390.80" y2="211.00" stroke="#000" stroke-width="1.8" />
<text x="382.00" y="215.30" font-size="12" font-weight="bold" text-anchor="end" fill="#000" >700</text>
<line x1="385.30" y1="244.90" x2="390.80" y2="244.90" stroke="#000" stroke-width="1.8" />
<text x="382.00" y="249.20" font-size="12" font-weight="bold" text-anchor="end" fill="#000" >500</text>
<line x1="385.30" y1="278.70" x2="390.80" y2="278.70" stroke="#000" stroke-width="1.8" />
<text x="382.00" y="283.00" font-size="12" font-weight="bold" text-anchor="end" fill="#000" >300</text>
<line x1="385.30" y1="312.50" x2="390.80" y2="312.50" stroke="#000" stroke-width="1.8" />
<text x="382.00" y="316.80" font-size="12" font-weight="bold" text-anchor="end" fill="#000" >100</text>
<rect x="481.80" y="291.30" width="10.00" height="37.35" fill="#d9d9d9" stroke="#000" stroke-width="1.6"/>
<rect x="495.80" y="278.80" width="10.80" height="49.85" fill="#108ba5" stroke="#000" stroke-width="1.6"/>
<rect x="517.30" y="286.80" width="9.50" height="41.85" fill="#d9d9d9" stroke="#000" stroke-width="1.6"/>
<rect x="531.60" y="275.90" width="10.20" height="52.75" fill="#108ba5" stroke="#000" stroke-width="1.6"/>
<line x1="486.80" y1="287.60" x2="486.80" y2="294.00" stroke="#111" stroke-width="1.1" />
<line x1="483.80" y1="287.60" x2="489.80" y2="287.60" stroke="#111" stroke-width="1.1" />
<line x1="483.80" y1="294.00" x2="489.80" y2="294.00" stroke="#111" stroke-width="1.1" />
<line x1="501.20" y1="272.80" x2="501.20" y2="284.00" stroke="#111" stroke-width="1.1" />
<line x1="498.20" y1="272.80" x2="504.20" y2="272.80" stroke="#111" stroke-width="1.1" />
<line x1="498.20" y1="284.00" x2="504.20" y2="284.00" stroke="#111" stroke-width="1.1" />
<line x1="522.00" y1="281.90" x2="522.00" y2="290.00" stroke="#111" stroke-width="1.1" />
<line x1="519.00" y1="281.90" x2="525.00" y2="281.90" stroke="#111" stroke-width="1.1" />
<line x1="519.00" y1="290.00" x2="525.00" y2="290.00" stroke="#111" stroke-width="1.1" />
<line x1="536.70" y1="271.00" x2="536.70" y2="280.00" stroke="#111" stroke-width="1.1" />
<line x1="533.70" y1="271.00" x2="539.70" y2="271.00" stroke="#111" stroke-width="1.1" />
<line x1="533.70" y1="280.00" x2="539.70" y2="280.00" stroke="#111" stroke-width="1.1" />
<circle cx="483.20" cy="286.00" r="1.9" fill="#eebcbc" stroke="#121212" stroke-width="1.1"/>
<circle cx="487.10" cy="284.20" r="1.9" fill="#eebcbc" stroke="#121212" stroke-width="1.1"/>
<circle cx="491.00" cy="283.70" r="1.9" fill="#eebcbc" stroke="#121212" stroke-width="1.1"/>
<circle cx="485.50" cy="292.10" r="1.9" fill="#eebcbc" stroke="#121212" stroke-width="1.1"/>
<circle cx="484.10" cy="295.10" r="1.9" fill="#eebcbc" stroke="#121212" stroke-width="1.1"/>
<circle cx="487.10" cy="296.70" r="1.9" fill="#eebcbc" stroke="#121212" stroke-width="1.1"/>
<circle cx="490.00" cy="298.30" r="1.9" fill="#eebcbc" stroke="#121212" stroke-width="1.1"/>
<circle cx="488.70" cy="289.20" r="1.9" fill="#eebcbc" stroke="#121212" stroke-width="1.1"/>
<circle cx="501.30" cy="252.10" r="1.9" fill="#eebcbc" stroke="#121212" stroke-width="1.1"/>
<circle cx="501.40" cy="270.50" r="1.9" fill="#eebcbc" stroke="#121212" stroke-width="1.1"/>
<circle cx="497.30" cy="279.60" r="1.9" fill="#eebcbc" stroke="#121212" stroke-width="1.1"/>
<circle cx="503.00" cy="281.90" r="1.9" fill="#eebcbc" stroke="#121212" stroke-width="1.1"/>
<circle cx="505.30" cy="284.60" r="1.9" fill="#eebcbc" stroke="#121212" stroke-width="1.1"/>
<circle cx="501.40" cy="295.10" r="1.9" fill="#eebcbc" stroke="#121212" stroke-width="1.1"/>
<circle cx="522.40" cy="265.50" r="1.9" fill="#eebcbc" stroke="#121212" stroke-width="1.1"/>
<circle cx="522.40" cy="278.50" r="1.9" fill="#eebcbc" stroke="#121212" stroke-width="1.1"/>
<circle cx="519.00" cy="286.40" r="1.9" fill="#eebcbc" stroke="#121212" stroke-width="1.1"/>
<circle cx="524.20" cy="286.00" r="1.9" fill="#eebcbc" stroke="#121212" stroke-width="1.1"/>
<circle cx="520.60" cy="289.90" r="1.9" fill="#eebcbc" stroke="#121212" stroke-width="1.1"/>
<circle cx="525.10" cy="293.30" r="1.9" fill="#eebcbc" stroke="#121212" stroke-width="1.1"/>
<circle cx="522.40" cy="301.30" r="1.9" fill="#eebcbc" stroke="#121212" stroke-width="1.1"/>
<circle cx="536.30" cy="258.30" r="1.9" fill="#eebcbc" stroke="#121212" stroke-width="1.1"/>
<circle cx="532.60" cy="263.20" r="1.9" fill="#eebcbc" stroke="#121212" stroke-width="1.1"/>
<circle cx="540.20" cy="261.80" r="1.9" fill="#eebcbc" stroke="#121212" stroke-width="1.1"/>
<circle cx="538.30" cy="275.50" r="1.9" fill="#eebcbc" stroke="#121212" stroke-width="1.1"/>
<circle cx="533.30" cy="279.20" r="1.9" fill="#eebcbc" stroke="#121212" stroke-width="1.1"/>
<circle cx="538.30" cy="279.20" r="1.9" fill="#eebcbc" stroke="#121212" stroke-width="1.1"/>
<circle cx="533.80" cy="286.00" r="1.9" fill="#eebcbc" stroke="#121212" stroke-width="1.1"/>
<circle cx="537.20" cy="288.30" r="1.9" fill="#eebcbc" stroke="#121212" stroke-width="1.1"/>
<circle cx="540.60" cy="291.00" r="1.9" fill="#eebcbc" stroke="#121212" stroke-width="1.1"/>
<line x1="473.20" y1="193.60" x2="473.20" y2="329.60" stroke="#000" stroke-width="1.8" />
<line x1="472.30" y1="328.70" x2="550.40" y2="328.70" stroke="#000" stroke-width="1.8" />
<line x1="467.70" y1="211.00" x2="473.20" y2="211.00" stroke="#000" stroke-width="1.8" />
<line x1="467.70" y1="244.90" x2="473.20" y2="244.90" stroke="#000" stroke-width="1.8" />
<line x1="467.70" y1="278.70" x2="473.20" y2="278.70" stroke="#000" stroke-width="1.8" />
<line x1="467.70" y1="312.50" x2="473.20" y2="312.50" stroke="#000" stroke-width="1.8" />
<text x="397.00" y="204.80" font-size="10.5" textLength="17.7" lengthAdjust="spacingAndGlyphs">LPS</text>
<text x="421.80" y="204.20" font-size="11" font-weight="normal" text-anchor="middle" fill="#000" >*</text>
<text x="427.00" y="204.20" font-size="11" font-weight="normal" text-anchor="middle" fill="#000" >*</text>
<text x="479.40" y="204.60" font-size="10.5" textLength="17.7" lengthAdjust="spacingAndGlyphs">LPS</text>
<text x="504.50" y="204.00" font-size="11" font-weight="normal" text-anchor="middle" fill="#000" >*</text>
<text x="509.10" y="204.00" font-size="11" font-weight="normal" text-anchor="middle" fill="#000" >*</text>
<line x1="400.00" y1="248.50" x2="422.75" y2="248.50" stroke="#000" stroke-width="1.1" />
<line x1="411.25" y1="248.50" x2="411.25" y2="233.10" stroke="#000" stroke-width="1.1" />
<line x1="410.70" y1="233.10" x2="447.40" y2="233.10" stroke="#000" stroke-width="1.1" />
<line x1="446.90" y1="233.10" x2="446.90" y2="240.00" stroke="#000" stroke-width="1.1" />
<line x1="435.60" y1="240.00" x2="458.10" y2="240.00" stroke="#000" stroke-width="1.1" />
<text x="429.40" y="235.30" font-size="13" font-weight="normal" text-anchor="middle" fill="#000" >*</text>
<text x="410.30" y="342.60" font-size="10.5" font-weight="bold" text-anchor="middle" fill="#000" >CTRL</text>
<text x="446.10" y="342.60" font-size="10.5" font-weight="bold" text-anchor="middle" fill="#000" >ALAN</text>
<line x1="395.60" y1="347.00" x2="464.70" y2="347.00" stroke="#000" stroke-width="1.6" />
<text x="429.55" y="359.50" font-size="11" font-weight="bold" text-anchor="middle" fill="#000" >ZT2 + 24 h</text>
<text x="493.10" y="342.60" font-size="10.5" font-weight="bold" text-anchor="middle" fill="#000" >CTRL</text>
<text x="528.65" y="342.60" font-size="10.5" font-weight="bold" text-anchor="middle" fill="#000" >ALAN</text>
<line x1="478.20" y1="347.00" x2="547.00" y2="347.00" stroke="#000" stroke-width="1.6" />
<text x="511.60" y="359.50" font-size="11" font-weight="bold" text-anchor="middle" fill="#000" >ZT14 + 24 h</text>
<text x="212.00" y="11.20" font-size="13.2" font-weight="bold" text-anchor="start" fill="#000" >b</text>
<rect x="261.15" y="85.95" width="7.50" height="48.90" fill="url(#h2)" stroke="#000" stroke-width="1.9"/>
<rect x="272.45" y="125.95" width="7.60" height="8.90" fill="url(#h14)" stroke="#000" stroke-width="1.9"/>
<rect x="294.55" y="101.95" width="7.90" height="32.90" fill="url(#h2)" stroke="#000" stroke-width="1.9"/>
<rect x="306.35" y="117.25" width="7.60" height="17.60" fill="url(#h14)" stroke="#000" stroke-width="1.9"/>
<line x1="264.90" y1="85.00" x2="264.90" y2="102.00" stroke="#111" stroke-width="1.25" />
<line x1="262.30" y1="102.00" x2="267.50" y2="102.00" stroke="#111" stroke-width="1.25" />
<line x1="264.90" y1="68.00" x2="264.90" y2="85.00" stroke="#1a1a1a" stroke-width="1.25" />
<line x1="262.30" y1="68.00" x2="267.50" y2="68.00" stroke="#1a1a1a" stroke-width="1.25" />
<line x1="276.20" y1="125.00" x2="276.20" y2="130.00" stroke="#111" stroke-width="1.25" />
<line x1="273.60" y1="130.00" x2="278.80" y2="130.00" stroke="#111" stroke-width="1.25" />
<line x1="276.20" y1="120.00" x2="276.20" y2="125.00" stroke="#1a1a1a" stroke-width="1.25" />
<line x1="273.60" y1="120.00" x2="278.80" y2="120.00" stroke="#1a1a1a" stroke-width="1.25" />
<line x1="298.50" y1="101.00" x2="298.50" y2="115.50" stroke="#111" stroke-width="1.25" />
<line x1="295.90" y1="115.50" x2="301.10" y2="115.50" stroke="#111" stroke-width="1.25" />
<line x1="298.50" y1="86.50" x2="298.50" y2="101.00" stroke="#1a1a1a" stroke-width="1.25" />
<line x1="295.90" y1="86.50" x2="301.10" y2="86.50" stroke="#1a1a1a" stroke-width="1.25" />
<line x1="310.10" y1="116.30" x2="310.10" y2="127.10" stroke="#111" stroke-width="1.25" />
<line x1="307.50" y1="127.10" x2="312.70" y2="127.10" stroke="#111" stroke-width="1.25" />
<line x1="310.10" y1="105.50" x2="310.10" y2="116.30" stroke="#1a1a1a" stroke-width="1.25" />
<line x1="307.50" y1="105.50" x2="312.70" y2="105.50" stroke="#1a1a1a" stroke-width="1.25" />
<line x1="252.60" y1="18.00" x2="252.60" y2="155.25" stroke="#000" stroke-width="2.0" />
<line x1="247.10" y1="18.00" x2="252.60" y2="18.00" stroke="#000" stroke-width="1.8" />
<text x="245.30" y="22.50" font-size="12.5" font-weight="bold" text-anchor="end" fill="#000" >7</text>
<line x1="247.10" y1="57.50" x2="252.60" y2="57.50" stroke="#000" stroke-width="1.8" />
<text x="245.30" y="62.00" font-size="12.5" font-weight="bold" text-anchor="end" fill="#000" >5</text>
<line x1="247.10" y1="96.25" x2="252.60" y2="96.25" stroke="#000" stroke-width="1.8" />
<text x="245.30" y="100.75" font-size="12.5" font-weight="bold" text-anchor="end" fill="#000" >3</text>
<line x1="247.10" y1="134.80" x2="252.60" y2="134.80" stroke="#000" stroke-width="1.8" />
<text x="245.30" y="139.30" font-size="12.5" font-weight="bold" text-anchor="end" fill="#000" >1</text>
<line x1="247.10" y1="154.25" x2="252.60" y2="154.25" stroke="#000" stroke-width="1.8" />
<text x="245.30" y="158.75" font-size="12.5" font-weight="bold" text-anchor="end" fill="#000" >0</text>
<line x1="252.60" y1="134.80" x2="322.50" y2="134.80" stroke="#000" stroke-width="1.9" />
<rect x="257.65" y="153.65" width="1.5" height="1.5" fill="#111"/>
<rect x="263.57" y="153.65" width="1.5" height="1.5" fill="#111"/>
<rect x="269.49" y="153.65" width="1.5" height="1.5" fill="#111"/>
<rect x="275.41" y="153.65" width="1.5" height="1.5" fill="#111"/>
<rect x="281.33" y="153.65" width="1.5" height="1.5" fill="#111"/>
<rect x="287.25" y="153.65" width="1.5" height="1.5" fill="#111"/>
<rect x="293.17" y="153.65" width="1.5" height="1.5" fill="#111"/>
<rect x="299.09" y="153.65" width="1.5" height="1.5" fill="#111"/>
<rect x="305.01" y="153.65" width="1.5" height="1.5" fill="#111"/>
<rect x="310.93" y="153.65" width="1.5" height="1.5" fill="#111"/>
<rect x="316.85" y="153.65" width="1.5" height="1.5" fill="#111"/>
<text x="270.40" y="167.70" font-size="10.5" font-weight="bold" text-anchor="middle" fill="#000" >CTRL</text>
<text x="304.60" y="167.70" font-size="10.5" font-weight="bold" text-anchor="middle" fill="#000" >ALAN</text>
<text transform="translate(221.50,88.00) rotate(-90)" x="0" y="0" font-size="11.8" font-weight="bold" text-anchor="middle" fill="#000" textLength="86" lengthAdjust="spacing">LPS response</text>
<text transform="translate(233.10,87.50) rotate(-90)" x="0" y="0" font-size="10.3" font-weight="normal" text-anchor="middle" fill="#222" textLength="106.5" lengthAdjust="spacing">(fold change to Saline)</text>
<rect x="279.10" y="19.90" width="10.9" height="7.4" fill="#fff"/>
<polygon points="280.40,27.30 284.50,27.30 289.60,19.90 285.50,19.90" fill="#1a1a1a"/>
<rect x="279.65" y="20.45" width="9.80" height="6.30" fill="none" stroke="#222" stroke-width="1.1"/>
<rect x="279.10" y="32.30" width="10.9" height="7.4" fill="#d9d9d9"/>
<polygon points="280.40,39.70 284.50,39.70 289.60,32.30 285.50,32.30" fill="#108ba5"/>
<rect x="279.65" y="32.85" width="9.80" height="6.30" fill="none" stroke="#222" stroke-width="1.1"/>
<text x="294.80" y="27.70" font-size="10.5" font-weight="bold" text-anchor="start" fill="#000" >ZT2</text>
<text x="294.80" y="39.90" font-size="10.5" font-weight="bold" text-anchor="start" fill="#000" >ZT14</text>
<line x1="264.10" y1="59.80" x2="276.40" y2="59.80" stroke="#000" stroke-width="1.0" />
<line x1="264.60" y1="59.30" x2="264.60" y2="63.60" stroke="#000" stroke-width="1.0" />
<line x1="275.90" y1="59.30" x2="275.90" y2="117.00" stroke="#000" stroke-width="1.0" />
<text x="270.50" y="60.30" font-size="11.5" font-weight="normal" text-anchor="middle" fill="#000" >*</text>
<text x="556.90" y="11.20" font-size="13.2" font-weight="bold" text-anchor="start" fill="#000" >d</text>
<rect x="606.85" y="90.25" width="7.60" height="44.60" fill="url(#h2)" stroke="#000" stroke-width="1.9"/>
<rect x="618.35" y="123.75" width="7.70" height="11.10" fill="url(#h14)" stroke="#000" stroke-width="1.9"/>
<rect x="640.45" y="114.20" width="7.35" height="20.65" fill="url(#h2)" stroke="#000" stroke-width="1.9"/>
<rect x="652.20" y="128.95" width="6.85" height="5.90" fill="url(#h14)" stroke="#000" stroke-width="1.9"/>
<line x1="610.90" y1="89.00" x2="610.90" y2="104.50" stroke="#111" stroke-width="1.25" />
<line x1="608.30" y1="104.50" x2="613.50" y2="104.50" stroke="#111" stroke-width="1.25" />
<line x1="610.90" y1="73.50" x2="610.90" y2="89.00" stroke="#1a1a1a" stroke-width="1.25" />
<line x1="608.30" y1="73.50" x2="613.50" y2="73.50" stroke="#1a1a1a" stroke-width="1.25" />
<line x1="622.20" y1="122.80" x2="622.20" y2="126.85" stroke="#111" stroke-width="1.25" />
<line x1="619.60" y1="126.85" x2="624.80" y2="126.85" stroke="#111" stroke-width="1.25" />
<line x1="622.20" y1="118.75" x2="622.20" y2="122.80" stroke="#1a1a1a" stroke-width="1.25" />
<line x1="619.60" y1="118.75" x2="624.80" y2="118.75" stroke="#1a1a1a" stroke-width="1.25" />
<line x1="644.10" y1="113.25" x2="644.10" y2="126.00" stroke="#111" stroke-width="1.25" />
<line x1="641.50" y1="126.00" x2="646.70" y2="126.00" stroke="#111" stroke-width="1.25" />
<line x1="644.10" y1="100.50" x2="644.10" y2="113.25" stroke="#1a1a1a" stroke-width="1.25" />
<line x1="641.50" y1="100.50" x2="646.70" y2="100.50" stroke="#1a1a1a" stroke-width="1.25" />
<line x1="655.60" y1="128.00" x2="655.60" y2="133.20" stroke="#111" stroke-width="1.25" />
<line x1="655.60" y1="121.25" x2="655.60" y2="128.00" stroke="#1a1a1a" stroke-width="1.25" />
<line x1="653.00" y1="121.25" x2="658.20" y2="121.25" stroke="#1a1a1a" stroke-width="1.25" />
<line x1="598.60" y1="18.00" x2="598.60" y2="155.25" stroke="#000" stroke-width="2.0" />
<line x1="593.10" y1="18.00" x2="598.60" y2="18.00" stroke="#000" stroke-width="1.8" />
<text x="591.30" y="22.50" font-size="12.5" font-weight="bold" text-anchor="end" fill="#000" >7</text>
<line x1="593.10" y1="57.50" x2="598.60" y2="57.50" stroke="#000" stroke-width="1.8" />
<text x="591.30" y="62.00" font-size="12.5" font-weight="bold" text-anchor="end" fill="#000" >5</text>
<line x1="593.10" y1="96.25" x2="598.60" y2="96.25" stroke="#000" stroke-width="1.8" />
<text x="591.30" y="100.75" font-size="12.5" font-weight="bold" text-anchor="end" fill="#000" >3</text>
<line x1="593.10" y1="134.80" x2="598.60" y2="134.80" stroke="#000" stroke-width="1.8" />
<text x="591.30" y="139.30" font-size="12.5" font-weight="bold" text-anchor="end" fill="#000" >1</text>
<line x1="593.10" y1="154.25" x2="598.60" y2="154.25" stroke="#000" stroke-width="1.8" />
<text x="591.30" y="158.75" font-size="12.5" font-weight="bold" text-anchor="end" fill="#000" >0</text>
<line x1="598.60" y1="134.80" x2="668.75" y2="134.80" stroke="#000" stroke-width="1.9" />
<rect x="603.25" y="153.65" width="1.5" height="1.5" fill="#111"/>
<rect x="609.16" y="153.65" width="1.5" height="1.5" fill="#111"/>
<rect x="615.07" y="153.65" width="1.5" height="1.5" fill="#111"/>
<rect x="620.98" y="153.65" width="1.5" height="1.5" fill="#111"/>
<rect x="626.89" y="153.65" width="1.5" height="1.5" fill="#111"/>
<rect x="632.80" y="153.65" width="1.5" height="1.5" fill="#111"/>
<rect x="638.71" y="153.65" width="1.5" height="1.5" fill="#111"/>
<rect x="644.62" y="153.65" width="1.5" height="1.5" fill="#111"/>
<rect x="650.53" y="153.65" width="1.5" height="1.5" fill="#111"/>
<rect x="656.44" y="153.65" width="1.5" height="1.5" fill="#111"/>
<rect x="662.35" y="153.65" width="1.5" height="1.5" fill="#111"/>
<text x="616.00" y="167.70" font-size="10.5" font-weight="bold" text-anchor="middle" fill="#000" >CTRL</text>
<text x="650.40" y="167.70" font-size="10.5" font-weight="bold" text-anchor="middle" fill="#000" >ALAN</text>
<text transform="translate(566.90,88.00) rotate(-90)" x="0" y="0" font-size="11.8" font-weight="bold" text-anchor="middle" fill="#000" textLength="86" lengthAdjust="spacing">LPS response</text>
<text transform="translate(578.50,87.50) rotate(-90)" x="0" y="0" font-size="10.3" font-weight="normal" text-anchor="middle" fill="#222" textLength="106.5" lengthAdjust="spacing">(fold change to Saline)</text>
<rect x="625.10" y="20.30" width="10.2" height="7.4" fill="#fff"/>
<polygon points="626.32,27.70 630.15,27.70 634.93,20.30 631.09,20.30" fill="#1a1a1a"/>
<rect x="625.65" y="20.85" width="9.10" height="6.30" fill="none" stroke="#222" stroke-width="1.1"/>
<rect x="625.10" y="32.30" width="10.2" height="7.4" fill="#d9d9d9"/>
<polygon points="626.32,39.70 630.15,39.70 634.93,32.30 631.09,32.30" fill="#108ba5"/>
<rect x="625.65" y="32.85" width="9.10" height="6.30" fill="none" stroke="#222" stroke-width="1.1"/>
<text x="640.80" y="28.10" font-size="10.5" font-weight="bold" text-anchor="start" fill="#000" >ZT2</text>
<text x="640.80" y="39.90" font-size="10.5" font-weight="bold" text-anchor="start" fill="#000" >ZT14</text>
<line x1="610.00" y1="66.00" x2="622.60" y2="66.00" stroke="#000" stroke-width="1.1" />
<line x1="610.50" y1="65.50" x2="610.50" y2="71.30" stroke="#000" stroke-width="1.1" />
<line x1="622.10" y1="65.50" x2="622.10" y2="118.00" stroke="#000" stroke-width="1.1" />
<text x="616.10" y="66.00" font-size="12" font-weight="normal" text-anchor="middle" fill="#000" >*</text>
<text x="211.60" y="201.20" font-size="13.2" font-weight="bold" text-anchor="start" fill="#000" >f</text>
<rect x="261.95" y="273.95" width="7.90" height="9.90" fill="url(#h2)" stroke="#000" stroke-width="1.9"/>
<rect x="274.15" y="283.75" width="7.50" height="0.70" fill="url(#h14)" stroke="#000" stroke-width="1.9"/>
<rect x="295.35" y="277.85" width="7.70" height="6.00" fill="url(#h2)" stroke="#000" stroke-width="1.9"/>
<rect x="307.05" y="279.55" width="8.00" height="4.30" fill="url(#h14)" stroke="#000" stroke-width="1.9"/>
<line x1="265.90" y1="273.00" x2="265.90" y2="277.70" stroke="#111" stroke-width="1.25" />
<line x1="263.30" y1="277.70" x2="268.50" y2="277.70" stroke="#111" stroke-width="1.25" />
<line x1="265.90" y1="268.30" x2="265.90" y2="273.00" stroke="#1a1a1a" stroke-width="1.25" />
<line x1="263.30" y1="268.30" x2="268.50" y2="268.30" stroke="#1a1a1a" stroke-width="1.25" />
<line x1="277.10" y1="279.50" x2="277.10" y2="289.50" stroke="#1a1a1a" stroke-width="1.25" />
<line x1="274.50" y1="279.50" x2="279.70" y2="279.50" stroke="#1a1a1a" stroke-width="1.25" />
<line x1="299.20" y1="276.90" x2="299.20" y2="279.20" stroke="#111" stroke-width="1.25" />
<line x1="296.60" y1="279.20" x2="301.80" y2="279.20" stroke="#111" stroke-width="1.25" />
<line x1="299.20" y1="274.60" x2="299.20" y2="276.90" stroke="#1a1a1a" stroke-width="1.25" />
<line x1="296.60" y1="274.60" x2="301.80" y2="274.60" stroke="#1a1a1a" stroke-width="1.25" />
<line x1="311.00" y1="278.60" x2="311.00" y2="282.10" stroke="#111" stroke-width="1.25" />
<line x1="308.40" y1="282.10" x2="313.60" y2="282.10" stroke="#111" stroke-width="1.25" />
<line x1="311.00" y1="275.10" x2="311.00" y2="278.60" stroke="#1a1a1a" stroke-width="1.25" />
<line x1="308.40" y1="275.10" x2="313.60" y2="275.10" stroke="#1a1a1a" stroke-width="1.25" />
<line x1="253.50" y1="192.50" x2="253.50" y2="329.75" stroke="#000" stroke-width="2.0" />
<line x1="248.00" y1="192.50" x2="253.50" y2="192.50" stroke="#000" stroke-width="1.8" />
<text x="246.20" y="197.00" font-size="12.5" font-weight="bold" text-anchor="end" fill="#000" >3</text>
<line x1="248.00" y1="238.50" x2="253.50" y2="238.50" stroke="#000" stroke-width="1.8" />
<text x="246.20" y="243.00" font-size="12.5" font-weight="bold" text-anchor="end" fill="#000" >2</text>
<line x1="248.00" y1="283.80" x2="253.50" y2="283.80" stroke="#000" stroke-width="1.8" />
<text x="246.20" y="288.30" font-size="12.5" font-weight="bold" text-anchor="end" fill="#000" >1</text>
<line x1="248.00" y1="328.75" x2="253.50" y2="328.75" stroke="#000" stroke-width="1.8" />
<text x="246.20" y="333.25" font-size="12.5" font-weight="bold" text-anchor="end" fill="#000" >0</text>
<line x1="253.50" y1="283.80" x2="323.75" y2="283.80" stroke="#000" stroke-width="1.9" />
<rect x="258.85" y="328.15" width="1.5" height="1.5" fill="#111"/>
<rect x="264.75" y="328.15" width="1.5" height="1.5" fill="#111"/>
<rect x="270.65" y="328.15" width="1.5" height="1.5" fill="#111"/>
<rect x="276.55" y="328.15" width="1.5" height="1.5" fill="#111"/>
<rect x="282.45" y="328.15" width="1.5" height="1.5" fill="#111"/>
<rect x="288.35" y="328.15" width="1.5" height="1.5" fill="#111"/>
<rect x="294.25" y="328.15" width="1.5" height="1.5" fill="#111"/>
<rect x="300.15" y="328.15" width="1.5" height="1.5" fill="#111"/>
<rect x="306.05" y="328.15" width="1.5" height="1.5" fill="#111"/>
<rect x="311.95" y="328.15" width="1.5" height="1.5" fill="#111"/>
<rect x="317.85" y="328.15" width="1.5" height="1.5" fill="#111"/>
<text x="271.00" y="341.75" font-size="10.5" font-weight="bold" text-anchor="middle" fill="#000" >CTRL</text>
<text x="305.40" y="341.75" font-size="10.5" font-weight="bold" text-anchor="middle" fill="#000" >ALAN</text>
<text transform="translate(222.20,262.50) rotate(-90)" x="0" y="0" font-size="11.8" font-weight="bold" text-anchor="middle" fill="#000" textLength="86" lengthAdjust="spacing">LPS response</text>
<text transform="translate(233.80,262.00) rotate(-90)" x="0" y="0" font-size="10.3" font-weight="normal" text-anchor="middle" fill="#222" textLength="106.5" lengthAdjust="spacing">(fold change to Saline)</text>
<line x1="274.60" y1="289.50" x2="279.60" y2="289.50" stroke="#222" stroke-width="1.0" />
<text x="556.60" y="201.20" font-size="13.2" font-weight="bold" text-anchor="start" fill="#000" >h</text>
<rect x="607.85" y="275.25" width="7.70" height="8.60" fill="url(#h2)" stroke="#000" stroke-width="1.9"/>
<rect x="619.15" y="270.25" width="8.10" height="13.60" fill="url(#h14)" stroke="#000" stroke-width="1.9"/>
<rect x="641.15" y="275.25" width="7.70" height="8.60" fill="url(#h2)" stroke="#000" stroke-width="1.9"/>
<rect x="652.85" y="272.65" width="7.90" height="11.20" fill="url(#h14)" stroke="#000" stroke-width="1.9"/>
<line x1="611.70" y1="274.30" x2="611.70" y2="279.90" stroke="#111" stroke-width="1.25" />
<line x1="609.10" y1="279.90" x2="614.30" y2="279.90" stroke="#111" stroke-width="1.25" />
<line x1="611.70" y1="268.70" x2="611.70" y2="274.30" stroke="#1a1a1a" stroke-width="1.25" />
<line x1="609.10" y1="268.70" x2="614.30" y2="268.70" stroke="#1a1a1a" stroke-width="1.25" />
<line x1="623.20" y1="269.30" x2="623.20" y2="275.50" stroke="#111" stroke-width="1.25" />
<line x1="620.60" y1="275.50" x2="625.80" y2="275.50" stroke="#111" stroke-width="1.25" />
<line x1="623.20" y1="263.10" x2="623.20" y2="269.30" stroke="#1a1a1a" stroke-width="1.25" />
<line x1="620.60" y1="263.10" x2="625.80" y2="263.10" stroke="#1a1a1a" stroke-width="1.25" />
<line x1="645.00" y1="274.30" x2="645.00" y2="280.00" stroke="#111" stroke-width="1.25" />
<line x1="642.40" y1="280.00" x2="647.60" y2="280.00" stroke="#111" stroke-width="1.25" />
<line x1="645.00" y1="268.60" x2="645.00" y2="274.30" stroke="#1a1a1a" stroke-width="1.25" />
<line x1="642.40" y1="268.60" x2="647.60" y2="268.60" stroke="#1a1a1a" stroke-width="1.25" />
<line x1="656.80" y1="271.70" x2="656.80" y2="276.40" stroke="#111" stroke-width="1.25" />
<line x1="654.20" y1="276.40" x2="659.40" y2="276.40" stroke="#111" stroke-width="1.25" />
<line x1="656.80" y1="267.00" x2="656.80" y2="271.70" stroke="#1a1a1a" stroke-width="1.25" />
<line x1="654.20" y1="267.00" x2="659.40" y2="267.00" stroke="#1a1a1a" stroke-width="1.25" />
<line x1="599.00" y1="192.50" x2="599.00" y2="329.75" stroke="#000" stroke-width="2.0" />
<line x1="593.50" y1="192.50" x2="599.00" y2="192.50" stroke="#000" stroke-width="1.8" />
<text x="591.70" y="197.00" font-size="12.5" font-weight="bold" text-anchor="end" fill="#000" >3</text>
<line x1="593.50" y1="238.50" x2="599.00" y2="238.50" stroke="#000" stroke-width="1.8" />
<text x="591.70" y="243.00" font-size="12.5" font-weight="bold" text-anchor="end" fill="#000" >2</text>
<line x1="593.50" y1="283.80" x2="599.00" y2="283.80" stroke="#000" stroke-width="1.8" />
<text x="591.70" y="288.30" font-size="12.5" font-weight="bold" text-anchor="end" fill="#000" >1</text>
<line x1="593.50" y1="328.75" x2="599.00" y2="328.75" stroke="#000" stroke-width="1.8" />
<text x="591.70" y="333.25" font-size="12.5" font-weight="bold" text-anchor="end" fill="#000" >0</text>
<line x1="599.00" y1="283.80" x2="669.75" y2="283.80" stroke="#000" stroke-width="1.9" />
<rect x="604.65" y="328.15" width="1.5" height="1.5" fill="#111"/>
<rect x="610.57" y="328.15" width="1.5" height="1.5" fill="#111"/>
<rect x="616.49" y="328.15" width="1.5" height="1.5" fill="#111"/>
<rect x="622.41" y="328.15" width="1.5" height="1.5" fill="#111"/>
<rect x="628.33" y="328.15" width="1.5" height="1.5" fill="#111"/>
<rect x="634.25" y="328.15" width="1.5" height="1.5" fill="#111"/>
<rect x="640.17" y="328.15" width="1.5" height="1.5" fill="#111"/>
<rect x="646.09" y="328.15" width="1.5" height="1.5" fill="#111"/>
<rect x="652.01" y="328.15" width="1.5" height="1.5" fill="#111"/>
<rect x="657.93" y="328.15" width="1.5" height="1.5" fill="#111"/>
<rect x="663.85" y="328.15" width="1.5" height="1.5" fill="#111"/>
<text x="617.00" y="341.75" font-size="10.5" font-weight="bold" text-anchor="middle" fill="#000" >CTRL</text>
<text x="651.40" y="341.75" font-size="10.5" font-weight="bold" text-anchor="middle" fill="#000" >ALAN</text>
<text transform="translate(568.40,262.50) rotate(-90)" x="0" y="0" font-size="11.8" font-weight="bold" text-anchor="middle" fill="#000" textLength="86" lengthAdjust="spacing">LPS response</text>
<text transform="translate(580.00,262.00) rotate(-90)" x="0" y="0" font-size="10.3" font-weight="normal" text-anchor="middle" fill="#222" textLength="106.5" lengthAdjust="spacing">(fold change to Saline)</text>
</svg></body></html>
